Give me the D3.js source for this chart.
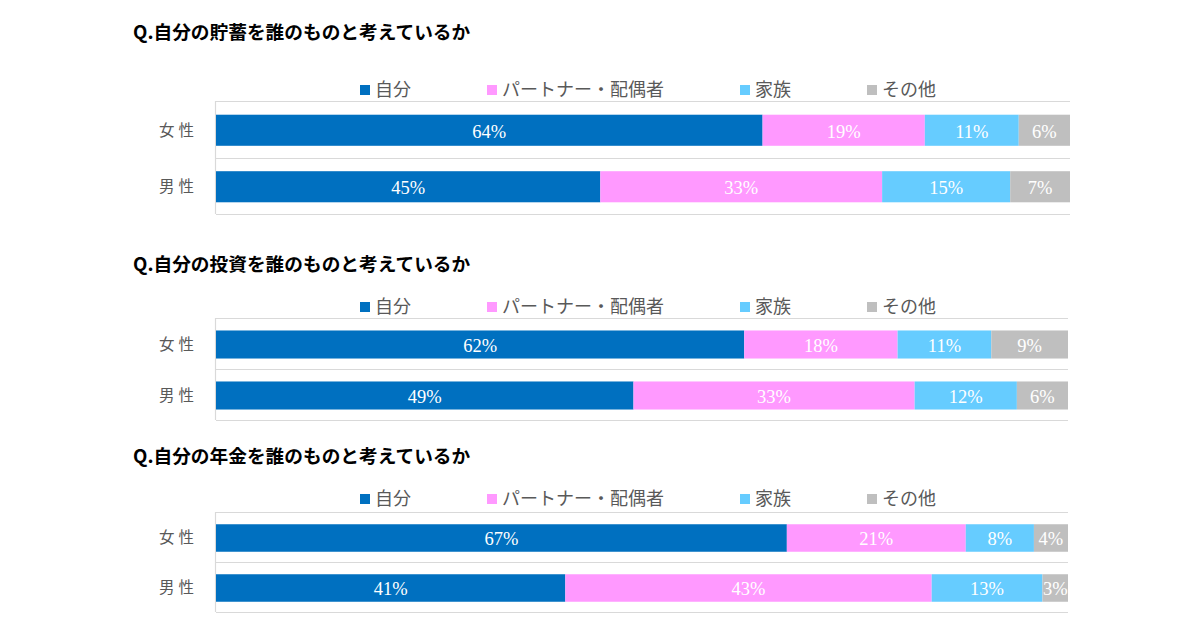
<!DOCTYPE html>
<html>
<head>
<meta charset="utf-8">
<script src="https://cdn.jsdelivr.net/npm/d3@7"></script>
<style>
  body { margin: 0; background: #fff; }
  svg { display: block; }
</style>
</head>
<body>
<svg id="chart" width="1200" height="641"></svg>
<script>
// 設問・系列・カテゴリ
const titles = [
  "Q.自分の貯蓄を誰のものと考えているか",
  "Q.自分の投資を誰のものと考えているか",
  "Q.自分の年金を誰のものと考えているか"
];
const categories = ["女性", "男性"];
const seriesNames = ["自分", "パートナー・配偶者", "家族", "その他"];
const seriesColors = ["#0070C0", "#FF99FF", "#66CCFF", "#BFBFBF"];

// 値 (%) : [女性, 男性] それぞれ 系列順
const savingValues = [[64, 19, 11, 6], [45, 33, 15, 7]];
const investValues = [[62, 18, 11, 9], [49, 33, 12, 6]];
const pensionValues = [[67, 21, 8, 4], [41, 43, 13, 3]];

const panelValues = [savingValues, investValues, pensionValues];

// レイアウト
const panels = [
  { titleY: 32, legendY: 90, top: 101, bottom: 214, right: 1070 },
  { titleY: 264, legendY: 307, top: 318, bottom: 420, right: 1068 },
  { titleY: 456, legendY: 499, top: 512, bottom: 612, right: 1068 }
];
const plotLeft = 216;

const svg = d3.select("#chart");

panels.forEach(function (p, i) {
  var g = svg.append("g");
  var values = panelValues[i];

  g.append("text")
    .attr("x", 133)
    .attr("y", p.titleY)
    .attr("dy", "0.35em")
    .attr("font-family", "'Noto Sans CJK JP', sans-serif")
    .attr("font-weight", "bold")
    .attr("font-size", 18.7)
    .attr("fill", "#000")
    .text(titles[i]);

  var x = d3.scaleLinear().domain([0, 100]).range([plotLeft, p.right]);
  var y = d3.scaleBand()
    .domain(categories)
    .range([p.top, p.bottom])
    .paddingInner(0.45)
    .paddingOuter(0.225);

  // 横罫線 (カテゴリ境界)
  var lines = [p.top, p.bottom];
  categories.slice(1).forEach(function (c) {
    lines.push(y(c) - y.step() * 0.225);
  });
  g.selectAll(".grid")
    .data(lines)
    .enter()
    .append("line")
    .attr("x1", plotLeft)
    .attr("x2", p.right)
    .attr("y1", function (d) { return Math.round(d) + 0.5; })
    .attr("y2", function (d) { return Math.round(d) + 0.5; })
    .attr("stroke", "#D9D9D9")
    .attr("stroke-width", 1.2);

  g.append("line")
    .attr("x1", plotLeft - 0.5)
    .attr("x2", plotLeft - 0.5)
    .attr("y1", p.top)
    .attr("y2", p.bottom)
    .attr("stroke", "#D9D9D9")
    .attr("stroke-width", 1.2);

  // 積み上げ
  var rows = categories.map(function (c, ci) {
    var obj = { category: c };
    seriesNames.forEach(function (s, si) { obj[s] = values[ci][si]; });
    return obj;
  });
  var stack = d3.stack().keys(seriesNames)(rows);

  var layer = g.selectAll(".layer")
    .data(stack)
    .enter()
    .append("g")
    .attr("fill", function (d, si) { return seriesColors[si]; });

  layer.selectAll("rect")
    .data(function (d) { return d; })
    .enter()
    .append("rect")
    .attr("x", function (d) { return x(d[0]); })
    .attr("y", function (d) { return y(d.data.category) + 1; })
    .attr("width", function (d) { return x(d[1]) - x(d[0]); })
    .attr("height", y.bandwidth());

  layer.selectAll("text")
    .data(function (d) { return d; })
    .enter()
    .append("text")
    .attr("x", function (d) { return (x(d[0]) + x(d[1])) / 2; })
    .attr("y", function (d) { return y(d.data.category) + y.bandwidth() / 2 + 2; })
    .attr("dy", "0.35em")
    .attr("text-anchor", "middle")
    .attr("font-family", "'Liberation Serif', 'DejaVu Serif', serif")
    .attr("font-size", 18.5)
    .attr("fill", "#fff")
    .text(function (d) { return (d[1] - d[0]) + "%"; });

  // カテゴリラベル
  g.selectAll(".cat")
    .data(categories)
    .enter()
    .append("text")
    .attr("x", 198)
    .attr("y", function (d) { return y(d) + y.bandwidth() / 2 + 1; })
    .attr("dy", "0.35em")
    .attr("text-anchor", "end")
    .attr("letter-spacing", 4)
    .attr("font-family", "'Noto Sans CJK JP', sans-serif")
    .attr("font-size", 15.5)
    .attr("fill", "#595959")
    .text(function (d) { return d; });

  // 凡例
  var lx = 360;
  seriesNames.forEach(function (s, si) {
    var item = g.append("g").attr("transform", "translate(" + lx + "," + p.legendY + ")");
    item.append("rect")
      .attr("x", 0)
      .attr("y", -5)
      .attr("width", 10)
      .attr("height", 10)
      .attr("fill", seriesColors[si]);
    var t = item.append("text")
      .attr("x", 15)
      .attr("dy", "0.35em")
      .attr("font-family", "'Noto Sans CJK JP', sans-serif")
      .attr("font-size", 18)
      .attr("fill", "#595959")
      .text(s);
    lx += 15 + t.node().getComputedTextLength() + 76;
  });
});
</script>
</body>
</html>
